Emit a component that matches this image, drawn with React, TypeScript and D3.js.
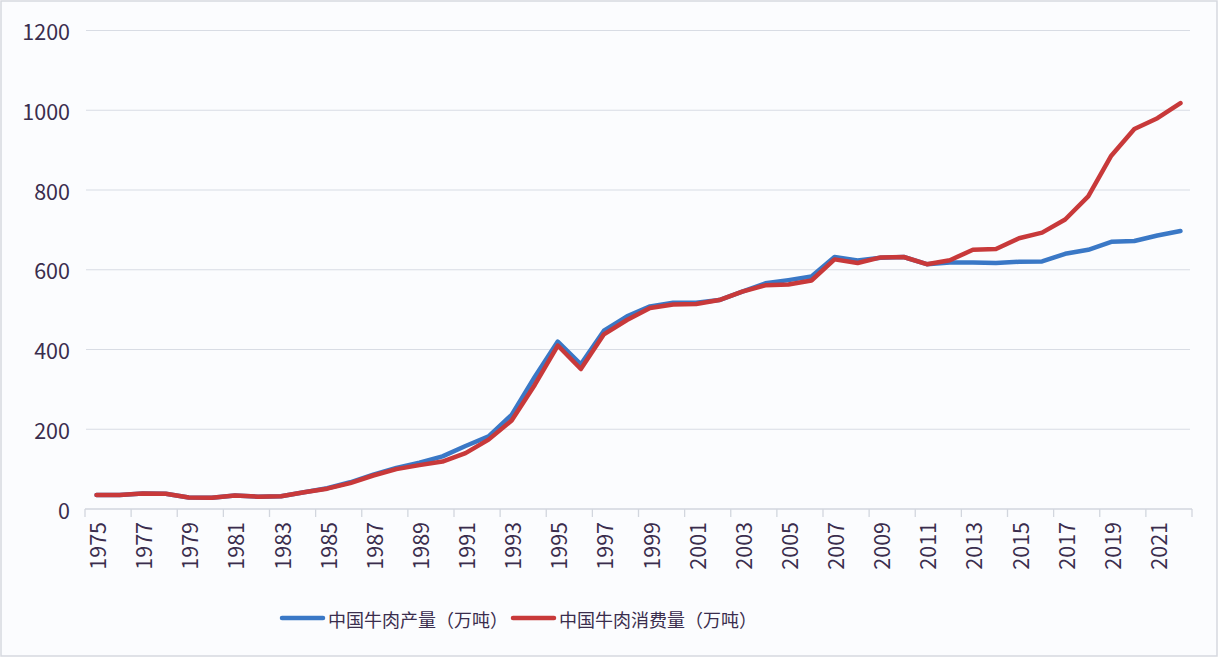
import React from "react";
import * as d3 from "d3";

const years: string[] = [
  "1975","1976","1977","1978","1979","1980","1981","1982","1983","1984",
  "1985","1986","1987","1988","1989","1990","1991","1992","1993","1994",
  "1995","1996","1997","1998","1999","2000","2001","2002","2003","2004",
  "2005","2006","2007","2008","2009","2010","2011","2012","2013","2014",
  "2015","2016","2017","2018","2019","2020","2021","2022",
];

const production: number[] = [
  35, 35, 39, 38, 29, 28, 34, 31, 32, 42,
  52, 67, 86, 103, 116, 132, 158, 182, 236, 331,
  420, 363, 447, 483, 508, 517, 517, 524, 545, 566,
  574, 583, 632, 623, 630, 632, 614, 618, 618, 617,
  620, 621, 640, 650, 670, 672, 686, 697,
];

const consumption: number[] = [
  35, 35, 39, 38, 29, 28, 34, 31, 32, 42,
  51, 65, 84, 100, 110, 119, 140, 174, 222, 311,
  410, 351, 438, 474, 504, 513, 514, 524, 545, 561,
  563, 573, 626, 617, 631, 632, 614, 624, 650, 652,
  679, 693, 726, 784, 886, 953, 980, 1018,
];

const yTicks: number[] = [0, 200, 400, 600, 800, 1000, 1200];

const seriesNames: string[] = ["中国牛肉产量（万吨）", "中国牛肉消费量（万吨）"];
const seriesColors: string[] = ["#3a78c6", "#c8393a"];

const W = 1222;
const H = 658;
const FONT = "'Noto Sans CJK SC', 'Noto Sans', sans-serif";
const TEXT = "#3a2d4d";

export default function App() {
  const x = d3.scaleBand<string>().domain(years).range([85, 1192]).paddingInner(0).paddingOuter(0);
  const y = d3.scaleLinear().domain([0, 1200]).range([509, 30.5]);
  const cx = (i: number) => (x(years[i]) as number) + x.bandwidth() / 2;

  const line = d3
    .line<number>()
    .x((_, i) => cx(i))
    .y((d) => y(d));

  const series = [production, consumption];

  return (
    <svg
      width={W}
      height={H}
      style={{ position: "absolute", left: 0, top: 0, display: "block", background: "#ffffff" }}
    >
      <rect x={1} y={1} width={1216} height={655} fill="#fbfcfe" stroke="#d6d9df" strokeWidth={1.5} />
      {yTicks.map((t) =>
        t === 0 ? null : (
          <line key={"g" + t} x1={86} x2={1190} y1={y(t)} y2={y(t)} stroke="#d8dce4" strokeWidth={1.2} />
        )
      )}
      {yTicks.map((t) => (
        <text
          key={"yl" + t}
          x={70}
          y={y(t)}
          textAnchor="end"
          dominantBaseline="central"
          fontFamily={FONT}
          fontSize={21.5}
          fill={TEXT}
        >
          {t}
        </text>
      ))}
      <line x1={85} x2={1192} y1={y(0)} y2={y(0)} stroke="#d2d6de" strokeWidth={1.3} />
      {years.map((yr, i) =>
        i % 2 === 0 ? (
          <line
            key={"tk" + yr}
            x1={x(yr) as number}
            x2={x(yr) as number}
            y1={y(0)}
            y2={y(0) + 8}
            stroke="#d2d6de"
            strokeWidth={1.3}
          />
        ) : null
      )}
      <line x1={1192} x2={1192} y1={y(0)} y2={y(0) + 8} stroke="#d2d6de" strokeWidth={1.3} />
      {years.map((yr, i) =>
        i % 2 === 0 ? (
          <text
            key={"xl" + yr}
            transform={`translate(${cx(i)},${522}) rotate(-90)`}
            textAnchor="end"
            dominantBaseline="central"
            fontFamily={FONT}
            fontSize={21.5}
            fill={TEXT}
          >
            {yr}
          </text>
        ) : null
      )}
      {series.map((s, k) => (
        <path
          key={"s" + k}
          d={line(s) || ""}
          fill="none"
          stroke={seriesColors[k]}
          strokeWidth={4.5}
          strokeLinejoin="round"
          strokeLinecap="round"
        />
      ))}
      {seriesNames.map((name, k) => {
        const lx = k === 0 ? 282 : 513;
        return (
          <g key={"lg" + k}>
            <line x1={lx} x2={lx + 41} y1={618} y2={618} stroke={seriesColors[k]} strokeWidth={4.5} strokeLinecap="round" />
            <text x={lx + 46} y={619} dominantBaseline="central" fontFamily={FONT} fontSize={18} fill={TEXT}>
              {name}
            </text>
          </g>
        );
      })}
    </svg>
  );
}
